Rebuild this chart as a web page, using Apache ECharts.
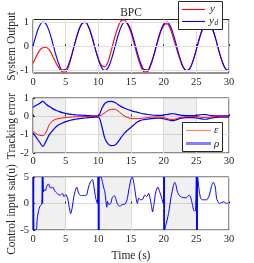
<!DOCTYPE html>
<html><head><meta charset="utf-8">
<script src="https://cdn.jsdelivr.net/npm/echarts@6/dist/echarts.min.js"></script>
<style>html,body{margin:0;padding:0;background:#fff}#c{width:254px;height:263px}</style>
</head><body><div id="c"></div>
<script>
// time samples (s) for panels 1 and 2
const t = [0,0.5,1,1.5,2,2.5,3,3.5,4,4.5,5,5.5,6,6.5,7,7.5,8,8.5,9,9.5,10,10.5,11,11.5,12,12.5,13,13.5,14,14.5,15,15.5,16,16.5,17,17.5,18,18.5,19,19.5,20,20.5,21,21.5,22,22.5,23,23.5,24,24.5,25,25.5,26,26.5,27,27.5,28,28.5,29,29.5,30];
// desired output y_d (blue)
const yd = [0,0.48,0.84,1.00,0.91,0.60,0.14,-0.35,-0.76,-0.98,-0.96,-0.71,-0.28,0.22,0.66,0.94,0.99,0.80,0.41,-0.08,-0.54,-0.88,-1.00,-0.88,-0.54,-0.07,0.42,0.80,0.99,0.93,0.65,0.20,-0.29,-0.71,-0.96,-0.98,-0.75,-0.34,0.15,0.61,0.91,1.00,0.84,0.47,-0.01,-0.49,-0.85,-1.00,-0.91,-0.59,-0.13,0.36,0.76,0.98,0.96,0.70,0.27,-0.23,-0.66,-0.94,-0.99];
// system output y (red)
const y = [-0.70,-0.42,-0.18,-0.06,-0.05,-0.15,-0.40,-0.68,-0.90,-1.05,-1.06,-0.78,-0.31,0.19,0.64,0.92,0.98,0.79,0.41,-0.08,-0.50,-0.80,-0.84,-0.62,-0.15,0.35,0.78,1.05,1.08,0.88,0.55,0.08,-0.42,-0.82,-1.05,-1.05,-0.80,-0.38,0.10,0.55,0.85,0.93,0.72,0.32,-0.13,-0.55,-0.88,-1.01,-0.92,-0.60,-0.14,0.33,0.71,0.92,0.92,0.68,0.26,-0.24,-0.66,-0.94,-0.99];
// tracking error e (red)
const e = [-0.80,-0.95,-1.03,-1.05,-0.86,-0.45,-0.25,-0.16,-0.12,-0.09,-0.07,-0.05,-0.04,-0.03,-0.02,-0.02,-0.01,-0.01,0,0,0,0.08,0.20,0.32,0.38,0.39,0.30,0.15,0.02,-0.07,-0.11,-0.13,-0.13,-0.11,-0.09,-0.07,-0.05,-0.04,-0.04,-0.04,-0.06,-0.12,-0.16,-0.17,-0.12,-0.07,-0.04,-0.02,-0.02,-0.02,-0.02,-0.04,-0.06,-0.07,-0.05,-0.03,-0.02,-0.01,-0.01,0,0];
// performance bounds rho (blue)
const rhoUp = [0.50,0.60,0.70,0.82,0.66,0.53,0.42,0.33,0.26,0.20,0.16,0.12,0.10,0.08,0.07,0.06,0.05,0.04,0.03,0.03,0.02,0.40,0.70,0.80,0.82,0.77,0.65,0.53,0.44,0.37,0.31,0.26,0.22,0.17,0.13,0.10,0.08,0.06,0.05,0.05,0.07,0.10,0.13,0.14,0.11,0.07,0.05,0.04,0.04,0.04,0.05,0.08,0.10,0.09,0.06,0.04,0.03,0.03,0.02,0.02,0.02];
const rhoLo = [-0.90,-1.15,-1.40,-1.64,-1.35,-1.00,-0.78,-0.58,-0.45,-0.36,-0.29,-0.23,-0.19,-0.16,-0.13,-0.11,-0.09,-0.07,-0.06,-0.05,-0.04,-0.50,-1.20,-1.50,-1.60,-1.58,-1.40,-1.15,-0.92,-0.75,-0.60,-0.45,-0.30,-0.22,-0.18,-0.15,-0.13,-0.11,-0.10,-0.10,-0.13,-0.18,-0.22,-0.23,-0.18,-0.12,-0.08,-0.07,-0.07,-0.07,-0.08,-0.12,-0.15,-0.16,-0.12,-0.08,-0.06,-0.05,-0.04,-0.04,-0.04];
// control input sat(u): time and value
const tu = [0,0.05,0.1,0.15,0.5,0.66,0.87,1.07,1.33,1.42,1.47,1.52,1.62,1.75,1.9,2.1,2.35,2.7,3.0,3.37,3.88,4.2,4.5,4.75,5.0,5.3,5.56,5.77,6.0,6.3,6.7,7.0,7.3,7.8,8.2,8.5,8.8,9.1,9.3,9.6,9.85,9.95,10.0,10.05,10.1,10.15,10.4,10.6,10.8,11.0,11.3,11.4,11.6,11.9,12.1,12.45,12.65,12.96,13.3,13.7,14.1,14.4,14.7,15.0,15.2,15.5,15.7,15.97,16.2,16.5,16.8,17.1,17.4,17.7,18.1,18.3,18.5,18.8,19.1,19.4,19.7,19.95,20.0,20.05,20.1,20.15,20.3,20.5,20.8,21.1,21.5,21.7,21.9,22.1,22.4,22.75,23.1,23.5,23.9,24.1,24.4,24.6,24.85,25.0,25.05,25.1,25.15,25.2,25.4,25.65,25.97,26.3,26.6,27.0,27.35,27.6,27.9,28.1,28.5,28.9,29.2,29.6,29.9,30];
const u  = [5,-5,5,-5,-5,-2.7,-1.3,-0.5,-0.1,5,0,5,2.2,2.6,2.4,3.2,3.7,2.9,3.1,2.3,1.7,1.6,1.9,1.3,1.7,1.0,-0.8,-1.9,-0.8,1.6,3.1,1.9,1.5,1.5,1.6,3.1,4.1,4.5,3.4,1.0,0,5,-5,5,-5,5,5,4.2,3.1,2.2,-0.7,0.4,-0.2,0,1.0,1.5,1.0,-0.2,-0.5,-0.2,-0.1,0.7,2.8,4.6,5,3.4,1.6,0,1.0,0.7,0.8,1.6,1.3,1.9,-0.2,-1.6,-0.2,2.2,3.1,2.2,1.0,0,5,-5,5,-5,-4.2,-3.3,-1.5,1.0,3.4,4.0,3.4,2.2,1.5,1.2,1.1,1.1,1.6,1.3,-0.2,-1.3,-1.4,5,-5,5,-5,5,2.8,1.0,0.7,0.7,0.7,1.6,3.4,4.0,3.1,1.0,0,0.2,0.3,0,0.1,0.1];
const xTicks = [0,5,10,15,20,25,30];
const y1Ticks = [-1,0,1];
const shaded = [[0,5],[10,15],[20,25]];
const yNames = ['System Output','Tracking error','Control input sat(u)'];

const FONT = 'Liberation Serif';
const TXT = '#262626';
const pair = (a,b)=>a.map((v,i)=>[v,b[i]]);

const grids = [
  {left:33, top:19.5, width:196, height:53.5},
  {left:33, top:98, width:196, height:55},
  {left:33, top:177, width:196, height:55}
];
grids.forEach(g=>{g.show=true;g.borderColor=TXT;g.borderWidth=1;g.backgroundColor='transparent';});

function xAx(i, margin){
  return {gridIndex:i, type:'value', min:0, max:30, interval:5,
    axisLine:{show:false}, axisTick:{show:true, inside:true, length:2, lineStyle:{color:TXT}},
    axisLabel:{fontFamily:FONT, fontSize:10.5, color:TXT, margin:margin},
    splitLine:{show:true, lineStyle:{color:'#dedede', width:1}}};
}
const xAxes = [xAx(0,4), xAx(1,3), xAx(2,4)];
xAxes[2].name = 'Time (s)';
xAxes[2].nameLocation = 'middle';
xAxes[2].nameGap = 20;
xAxes[2].nameTextStyle = {fontFamily:FONT, fontSize:11.5, color:TXT};

function yAx(i, min, max, interval){
  const a = {gridIndex:i, type:'value', min:min, max:max,
    axisLine:{show:false}, axisTick:{show:true, inside:true, length:2, lineStyle:{color:TXT}},
    axisLabel:{fontFamily:FONT, fontSize:10.5, color:TXT, margin:4},
    splitLine:{show:true, lineStyle:{color:'#dedede', width:1}}};
  if (interval) a.interval = interval;
  return a;
}
const yAxes = [yAx(0,-1.1,1.1,null), yAx(1,-2,1,1), yAx(2,-5,5,5)];
yAxes[0].axisLabel.customValues = y1Ticks;
yAxes[0].axisTick.customValues = y1Ticks;
yAxes[0].splitLine.show = false;

const band = ()=>({silent:true, itemStyle:{color:'rgba(0,0,0,0.06)'},
  data: shaded.map(s=>[{xAxis:s[0]},{xAxis:s[1]}])});

const series = [
  {type:'line', xAxisIndex:0, yAxisIndex:0, data:[], z:1, silent:true,
   markLine:{silent:true, symbol:'none', label:{show:false}, lineStyle:{color:'#dedede', type:'solid', width:1},
     data: y1Ticks.map(v=>({yAxis:v}))}},
  {name:'y', type:'line', xAxisIndex:0, yAxisIndex:0, data:pair(t,y), smooth:0.4, symbol:'none',
   lineStyle:{color:'#ff0000', width:1.1}, z:3},
  {name:'yd', type:'line', xAxisIndex:0, yAxisIndex:0, data:pair(t,yd), smooth:0.4, symbol:'none',
   lineStyle:{color:'#0000ff', width:1.1}, z:4},
  {name:'rhoUp', type:'line', xAxisIndex:1, yAxisIndex:1, data:pair(t,rhoUp), smooth:0.35, symbol:'none',
   lineStyle:{color:'#0000ff', width:1.2}, markArea:band(), z:3},
  {name:'rhoLo', type:'line', xAxisIndex:1, yAxisIndex:1, data:pair(t,rhoLo), smooth:0.35, symbol:'none',
   lineStyle:{color:'#0000ff', width:1.2}, z:3},
  {name:'e', type:'line', xAxisIndex:1, yAxisIndex:1, data:pair(t,e), smooth:0.4, symbol:'none',
   lineStyle:{color:'#ff0000', width:1}, z:4},
  {name:'u', type:'line', xAxisIndex:2, yAxisIndex:2, data:pair(tu,u), smooth:0.2, symbol:'none',
   lineStyle:{color:'#0000ff', width:1}, markArea:band(), z:3}
];

const legendBox = (x,y,w,h)=>({type:'rect', shape:{x:x+0.5,y:y+0.5,width:w,height:h}, style:{fill:'#fff', stroke:TXT, lineWidth:1}, z:100});
const seg = (x1,x2,yy,color,w)=>({type:'line', shape:{x1:x1,y1:yy,x2:x2,y2:yy}, style:{stroke:color, lineWidth:w}, z:101});
const txt = (x,yy,s,size,align,italic)=>({type:'text', x:x, y:yy, style:{text:s, fontFamily:FONT, fontSize:size, fontStyle:italic?'italic':'normal', fill:TXT, align:align||'left', verticalAlign:'middle'}, z:102});
const vtxt = (x,yy,s)=>({type:'text', x:x, y:yy, rotation:Math.PI/2, style:{text:s, fontFamily:FONT, fontSize:11.5, fill:TXT, align:'center', verticalAlign:'middle'}, z:102});

const graphic = [
  txt(131,12.5,'BPC',11.5,'center',false),
  vtxt(12,46.5,yNames[0]), vtxt(12,126,yNames[1]), vtxt(12,209.5,yNames[2]),
  legendBox(178,1,44,28),
  seg(182,205,9.5,'#ff0000',1.1), txt(210,9,'y',11,'left',true),
  seg(182,205,21.5,'#0000ff',1.1), txt(209,21,'y',11,'left',true), txt(214.5,23.5,'d',7.5,'left',true),
  legendBox(182,122,40,29),
  seg(186,211,130.5,'rgba(255,0,0,0.5)',1.2), txt(214,130,'\u03b5',11,'left',true),
  seg(186,211,143.5,'rgba(0,0,255,0.5)',3), txt(214,144,'\u03c1',11,'left',true)
];

const chart = echarts.init(document.getElementById('c'), null, {renderer:'canvas'});
chart.setOption({animation:false, backgroundColor:'#fff', grid:grids, xAxis:xAxes, yAxis:yAxes, series:series, graphic:graphic});
</script></body></html>
